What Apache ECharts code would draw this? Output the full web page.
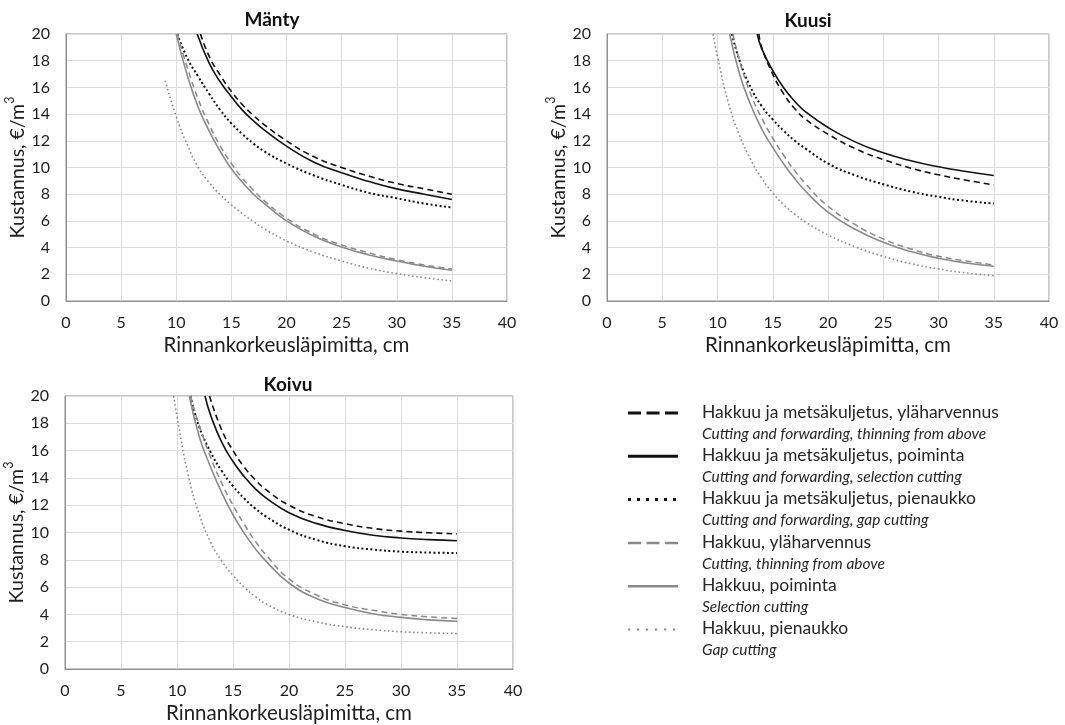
<!DOCTYPE html>
<html>
<head>
<meta charset="utf-8">
<script src="https://cdn.jsdelivr.net/npm/echarts@6/dist/echarts.min.js"></script>
<style>html,body{margin:0;padding:0;background:#fff}#chart{width:1065px;height:725px}</style>
</head>
<body>
<div id="chart"></div>
<script>
// ---- Data ----
const speciesTitles = ['Mänty', 'Kuusi', 'Koivu'];
const seriesNames = [
  'Hakkuu ja metsäkuljetus, yläharvennus',
  'Hakkuu ja metsäkuljetus, poiminta',
  'Hakkuu ja metsäkuljetus, pienaukko',
  'Hakkuu, yläharvennus',
  'Hakkuu, poiminta',
  'Hakkuu, pienaukko'
];
const seriesNamesEn = [
  'Cutting and forwarding, thinning from above',
  'Cutting and forwarding, selection cutting',
  'Cutting and forwarding, gap cutting',
  'Cutting, thinning from above',
  'Selection cutting',
  'Gap cutting'
];
const xAxisName = 'Rinnankorkeusläpimitta, cm';
const yAxisNameMain = 'Kustannus, €/m';
const yAxisNameSup = '3';

// Mänty
const mantyHmYla = [[12.2,20],[13,18.3],[14,16.9],[15,15.7],[16,14.7],[17,13.9],[18,13.2],[20,12.0],[22.5,10.8],[25,10.0],[27.5,9.35],[30,8.8],[32.5,8.4],[35,8.0]];
const mantyHmPoi = [[11.9,20],[13,17.8],[14,16.4],[15,15.3],[16,14.3],[17,13.5],[18,12.8],[20,11.6],[22.5,10.4],[25,9.6],[27.5,8.95],[30,8.4],[32.5,8.0],[35,7.6]];
const mantyHmPie = [[10.1,20],[11,18.2],[12,16.8],[13,15.5],[14,14.3],[15,13.3],[16,12.5],[17,11.8],[18,11.2],[20,10.3],[22.5,9.4],[25,8.7],[27.5,8.1],[30,7.7],[32.5,7.3],[35,7.0]];
const mantyHYla = [[10.1,20],[11,17.5],[12,15.1],[13,13.2],[14,11.6],[15,10.3],[16,9.2],[17,8.3],[18,7.5],[20,6.2],[22.5,5.0],[25,4.2],[27.5,3.6],[30,3.1],[32.5,2.7],[35,2.4]];
const mantyHPoi = [[10,20],[11,16.9],[12,14.5],[13,12.7],[14,11.2],[15,9.9],[16,8.9],[17,8.0],[18,7.3],[20,6.0],[22.5,4.85],[25,4.05],[27.5,3.45],[30,3.0],[32.5,2.6],[35,2.3]];
const mantyHPie = [[9,16.5],[10,13.8],[11,11.7],[12,10.0],[13,8.85],[14,7.95],[15,7.2],[16,6.55],[17,5.95],[18,5.4],[20,4.5],[22.5,3.65],[25,3.0],[27.5,2.45],[30,2.05],[32.5,1.75],[35,1.5]];

// Kuusi
const kuusiHmYla = [[13.75,20],[14,19.0],[15,17.0],[16,15.5],[17,14.4],[18,13.6],[20,12.5],[22.5,11.4],[25,10.6],[27.5,9.95],[30,9.45],[32.5,9.05],[35,8.7]];
const kuusiHmPoi = [[13.6,20],[14,18.9],[15,17.25],[16,15.95],[17,14.95],[18,14.15],[20,13.0],[22.5,11.9],[25,11.1],[27.5,10.5],[30,10.05],[32.5,9.7],[35,9.4]];
const kuusiHmPie = [[11.3,20],[12,18.0],[13,16.0],[14,14.6],[15,13.6],[16,12.75],[17,12.0],[18,11.4],[20,10.3],[22.5,9.4],[25,8.75],[27.5,8.2],[30,7.8],[32.5,7.5],[35,7.3]];
const kuusiHYla = [[11.4,20],[12,18.0],[13,15.5],[14,13.7],[15,12.2],[16,10.9],[17,9.75],[18,8.75],[20,7.1],[22.5,5.7],[25,4.65],[27.5,3.9],[30,3.35],[32.5,3.0],[35,2.7]];
const kuusiHPoi = [[11.1,20],[12,17.0],[13,14.7],[14,12.9],[15,11.5],[16,10.25],[17,9.15],[18,8.2],[20,6.65],[22.5,5.35],[25,4.4],[27.5,3.7],[30,3.2],[32.5,2.85],[35,2.6]];
const kuusiHPie = [[9.6,20],[10,18.3],[11,14.8],[12,12.4],[13,10.6],[14,9.2],[15,8.1],[16,7.2],[17,6.5],[18,5.9],[20,4.95],[22.5,4.05],[25,3.35],[27.5,2.8],[30,2.4],[32.5,2.1],[35,1.9]];

// Koivu
const koivuHmYla = [[12.9,20],[14,17.5],[15,16.0],[16,14.8],[17,13.85],[18,13.1],[20,12.0],[22.5,11.15],[25,10.65],[27.5,10.3],[30,10.1],[32.5,9.98],[35,9.9]];
const koivuHmPoi = [[12.5,20],[13,18.6],[14,16.6],[15,15.2],[16,14.1],[17,13.2],[18,12.5],[20,11.45],[22.5,10.65],[25,10.15],[27.5,9.8],[30,9.6],[32.5,9.48],[35,9.4]];
const koivuHmPie = [[11.2,20],[12,17.7],[13,15.9],[14,14.5],[15,13.4],[16,12.5],[17,11.75],[18,11.15],[20,10.2],[22.5,9.45],[25,9.0],[27.5,8.75],[30,8.6],[32.5,8.53],[35,8.5]];
const koivuHYla = [[11.2,20],[12,17.8],[13,15.5],[14,13.6],[15,12.0],[16,10.6],[17,9.35],[18,8.3],[20,6.6],[22.5,5.4],[25,4.7],[27.5,4.3],[30,4.0],[32.5,3.82],[35,3.7]];
const koivuHPoi = [[11.1,20],[12,17.0],[13,14.8],[14,12.9],[15,11.3],[16,9.95],[17,8.8],[18,7.85],[20,6.3],[22.5,5.15],[25,4.5],[27.5,4.05],[30,3.78],[32.5,3.6],[35,3.5]];
const koivuHPie = [[9.7,20],[10,18.5],[11,14.2],[12,11.3],[13,9.3],[14,7.9],[15,6.85],[16,6.0],[17,5.3],[18,4.75],[20,4.0],[22.5,3.45],[25,3.1],[27.5,2.88],[30,2.73],[32.5,2.65],[35,2.6]];

const panelData = [
  [mantyHmYla, mantyHmPoi, mantyHmPie, mantyHYla, mantyHPoi, mantyHPie],
  [kuusiHmYla, kuusiHmPoi, kuusiHmPie, kuusiHYla, kuusiHPoi, kuusiHPie],
  [koivuHmYla, koivuHmPoi, koivuHmPie, koivuHYla, koivuHPoi, koivuHPie]
];

// ---- Styles / layout ----
const FONT = 'Lato, "Open Sans", sans-serif';
const TXT = '#1e1e1e';
const BLACK = '#111111', GRAY = '#8a8a8a';
const lineStyles = [
  {color: BLACK, width: 1.6, type: [6, 4]},
  {color: BLACK, width: 1.6, type: 'solid'},
  {color: BLACK, width: 2, type: [2, 2.5]},
  {color: GRAY, width: 1.5, type: [6, 4]},
  {color: GRAY, width: 1.6, type: 'solid'},
  {color: GRAY, width: 1.6, type: [1.6, 2.6]}
];
const legendIcon = [
  {stroke: BLACK, lineWidth: 3, lineDash: [13, 5.5]},
  {stroke: BLACK, lineWidth: 3, lineDash: null},
  {stroke: BLACK, lineWidth: 3, lineDash: [3, 6]},
  {stroke: GRAY, lineWidth: 2.5, lineDash: [13, 5.5]},
  {stroke: GRAY, lineWidth: 2.5, lineDash: null},
  {stroke: GRAY, lineWidth: 2.2, lineDash: [2.2, 6.8]}
];
const grids = [
  {left: 66, top: 34, width: 441, height: 267},
  {left: 607, top: 34, width: 442, height: 267},
  {left: 65, top: 396, width: 448, height: 273}
];
const yNameGaps = [34, 36, 34];
const titlePos = [{x: 267, y: 5}, {x: 803, y: 6}, {x: 283, y: 370}];

const option = {
  backgroundColor: '#ffffff',
  animation: false,
  title: speciesTitles.map((t, i) => ({
    text: t, left: titlePos[i].x, top: titlePos[i].y, textAlign: 'center',
    textStyle: {fontFamily: FONT, fontSize: 19, fontWeight: 'bold', color: '#111'}
  })),
  grid: grids.map(g => Object.assign({show: true, borderColor: '#8f8f8f', borderWidth: 1, containLabel: false}, g)),
  xAxis: grids.map((g, i) => ({
    type: 'value', gridIndex: i, min: 0, max: 40, interval: 5,
    name: xAxisName, nameLocation: 'middle', nameGap: 34,
    nameTextStyle: {fontFamily: FONT, fontSize: 20.5, color: TXT},
    axisLine: {show: true, lineStyle: {color: '#8f8f8f', width: 1}},
    axisTick: {show: false},
    axisLabel: {fontFamily: FONT, fontSize: 16, color: TXT, margin: 14},
    splitLine: {show: true, lineStyle: {color: '#dcdcdc', width: 1}}
  })),
  yAxis: grids.map((g, i) => ({
    type: 'value', gridIndex: i, min: 0, max: 20, interval: 2,
    name: '{n|' + yAxisNameMain + '}{s|' + yAxisNameSup + '}',
    nameLocation: 'middle', nameGap: yNameGaps[i],
    nameTextStyle: {
      fontFamily: FONT, fontSize: 19.5, color: TXT,
      rich: {
        n: {fontFamily: FONT, fontSize: 19.5, color: TXT, lineHeight: 24, verticalAlign: 'bottom'},
        s: {fontFamily: FONT, fontSize: 12.5, color: TXT, lineHeight: 12, verticalAlign: 'top'}
      }
    },
    axisLine: {show: true, lineStyle: {color: '#8f8f8f', width: 1}},
    axisTick: {show: false},
    axisLabel: {fontFamily: FONT, fontSize: 16, color: TXT, margin: 16},
    splitLine: {show: true, lineStyle: {color: '#dcdcdc', width: 1}}
  })),
  series: [],
  graphic: []
};

panelData.forEach((arrs, p) => {
  arrs.forEach((d, k) => {
    option.series.push({
      type: 'line', name: seriesNames[k], xAxisIndex: p, yAxisIndex: p,
      data: d, smooth: 0.5, symbol: 'none', showSymbol: false, clip: true, silent: true,
      lineStyle: Object.assign({cap: 'butt'}, lineStyles[k])
    });
  });
});

// Legend (drawn as graphic to reproduce two-line entries)
const legX = 628, legW = 50, textX = 702, legTop = 412, legStep = 43.3;
seriesNames.forEach((n, k) => {
  const y = legTop + k * legStep;
  const st = Object.assign({fill: null}, legendIcon[k]);
  if (!st.lineDash) delete st.lineDash;
  option.graphic.push({
    type: 'line', silent: true,
    shape: {x1: legX, y1: y + 1, x2: legX + legW, y2: y + 1},
    style: st
  });
  option.graphic.push({
    type: 'text', silent: true, x: textX, y: y,
    style: {text: n, font: '17.5px ' + FONT, fill: '#262626', verticalAlign: 'middle', align: 'left'}
  });
  option.graphic.push({
    type: 'text', silent: true, x: textX, y: y + 21.7,
    style: {text: seriesNamesEn[k], font: 'italic 15.5px ' + FONT, fill: '#262626', verticalAlign: 'middle', align: 'left'}
  });
});

const chart = echarts.init(document.getElementById('chart'), null, {renderer: 'canvas'});
chart.setOption(option);
</script>
</body>
</html>
